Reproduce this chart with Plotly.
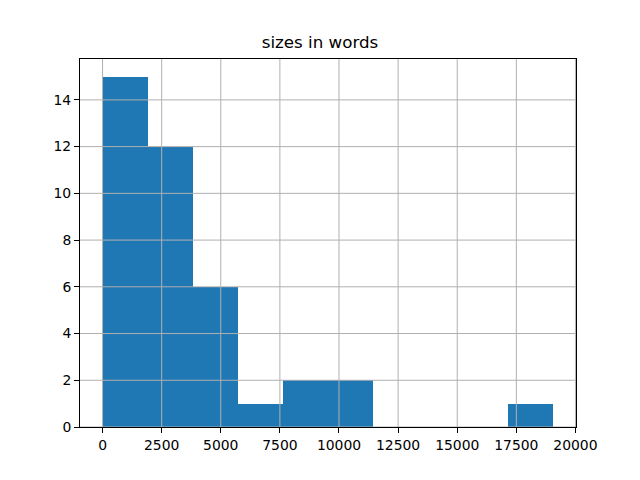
import plotly.graph_objects as go

# histogram of document sizes (10 bins)
bin_edges = [0, 1907, 3814, 5721, 7628, 9535, 11442, 13349, 15256, 17163, 19070]
counts = [15, 12, 6, 1, 2, 2, 0, 0, 0, 1]
x_ticks = [0, 2500, 5000, 7500, 10000, 12500, 15000, 17500, 20000]
y_ticks = [0, 2, 4, 6, 8, 10, 12, 14]

centers = [(a + b) / 2 for a, b in zip(bin_edges[:-1], bin_edges[1:])]
widths = [b - a for a, b in zip(bin_edges[:-1], bin_edges[1:])]

fig = go.Figure(go.Bar(x=centers, y=counts, width=widths,
                       marker=dict(color="#1f77b4", line=dict(width=0))))

font = "DejaVu Sans"
axis_common = dict(showline=True, linecolor="black", linewidth=1, mirror=True,
                   ticks="outside", ticklen=5, tickcolor="black",
                   showgrid=False, zeroline=False, layer="above traces",
                   tickfont=dict(family=font, size=13.9, color="black"))

# grid lines drawn above the bars (as matplotlib/pandas does)
grid = dict(color="#b0b0b0", width=1)
shapes = []
for v in x_ticks:
    shapes.append(dict(type="line", xref="x", yref="paper", x0=v, x1=v,
                       y0=0, y1=1, line=grid, layer="above"))
for v in y_ticks:
    shapes.append(dict(type="line", xref="paper", yref="y", x0=0, x1=1,
                       y0=v, y1=v, line=grid, layer="above"))

fig.update_layout(
    width=640, height=480,
    margin=dict(l=80, r=64, t=59, b=53),
    paper_bgcolor="white", plot_bgcolor="white",
    showlegend=False, bargap=0, shapes=shapes,
    title=dict(text="sizes in words", x=0.5, xanchor="center",
               y=1 - 48 / 480, yanchor="bottom",
               font=dict(family=font, size=16.7, color="black")),
    xaxis=dict(range=[-953.5, 20023.5], tickvals=x_ticks,
               ticktext=[str(v) for v in x_ticks], **axis_common),
    yaxis=dict(range=[0, 15.75], tickvals=y_ticks,
               ticktext=[str(v) for v in y_ticks], **axis_common),
)

fig.write_html("out.html", config={"displayModeBar": False},
               post_script="document.body.style.margin='0';document.body.style.padding='0';")
